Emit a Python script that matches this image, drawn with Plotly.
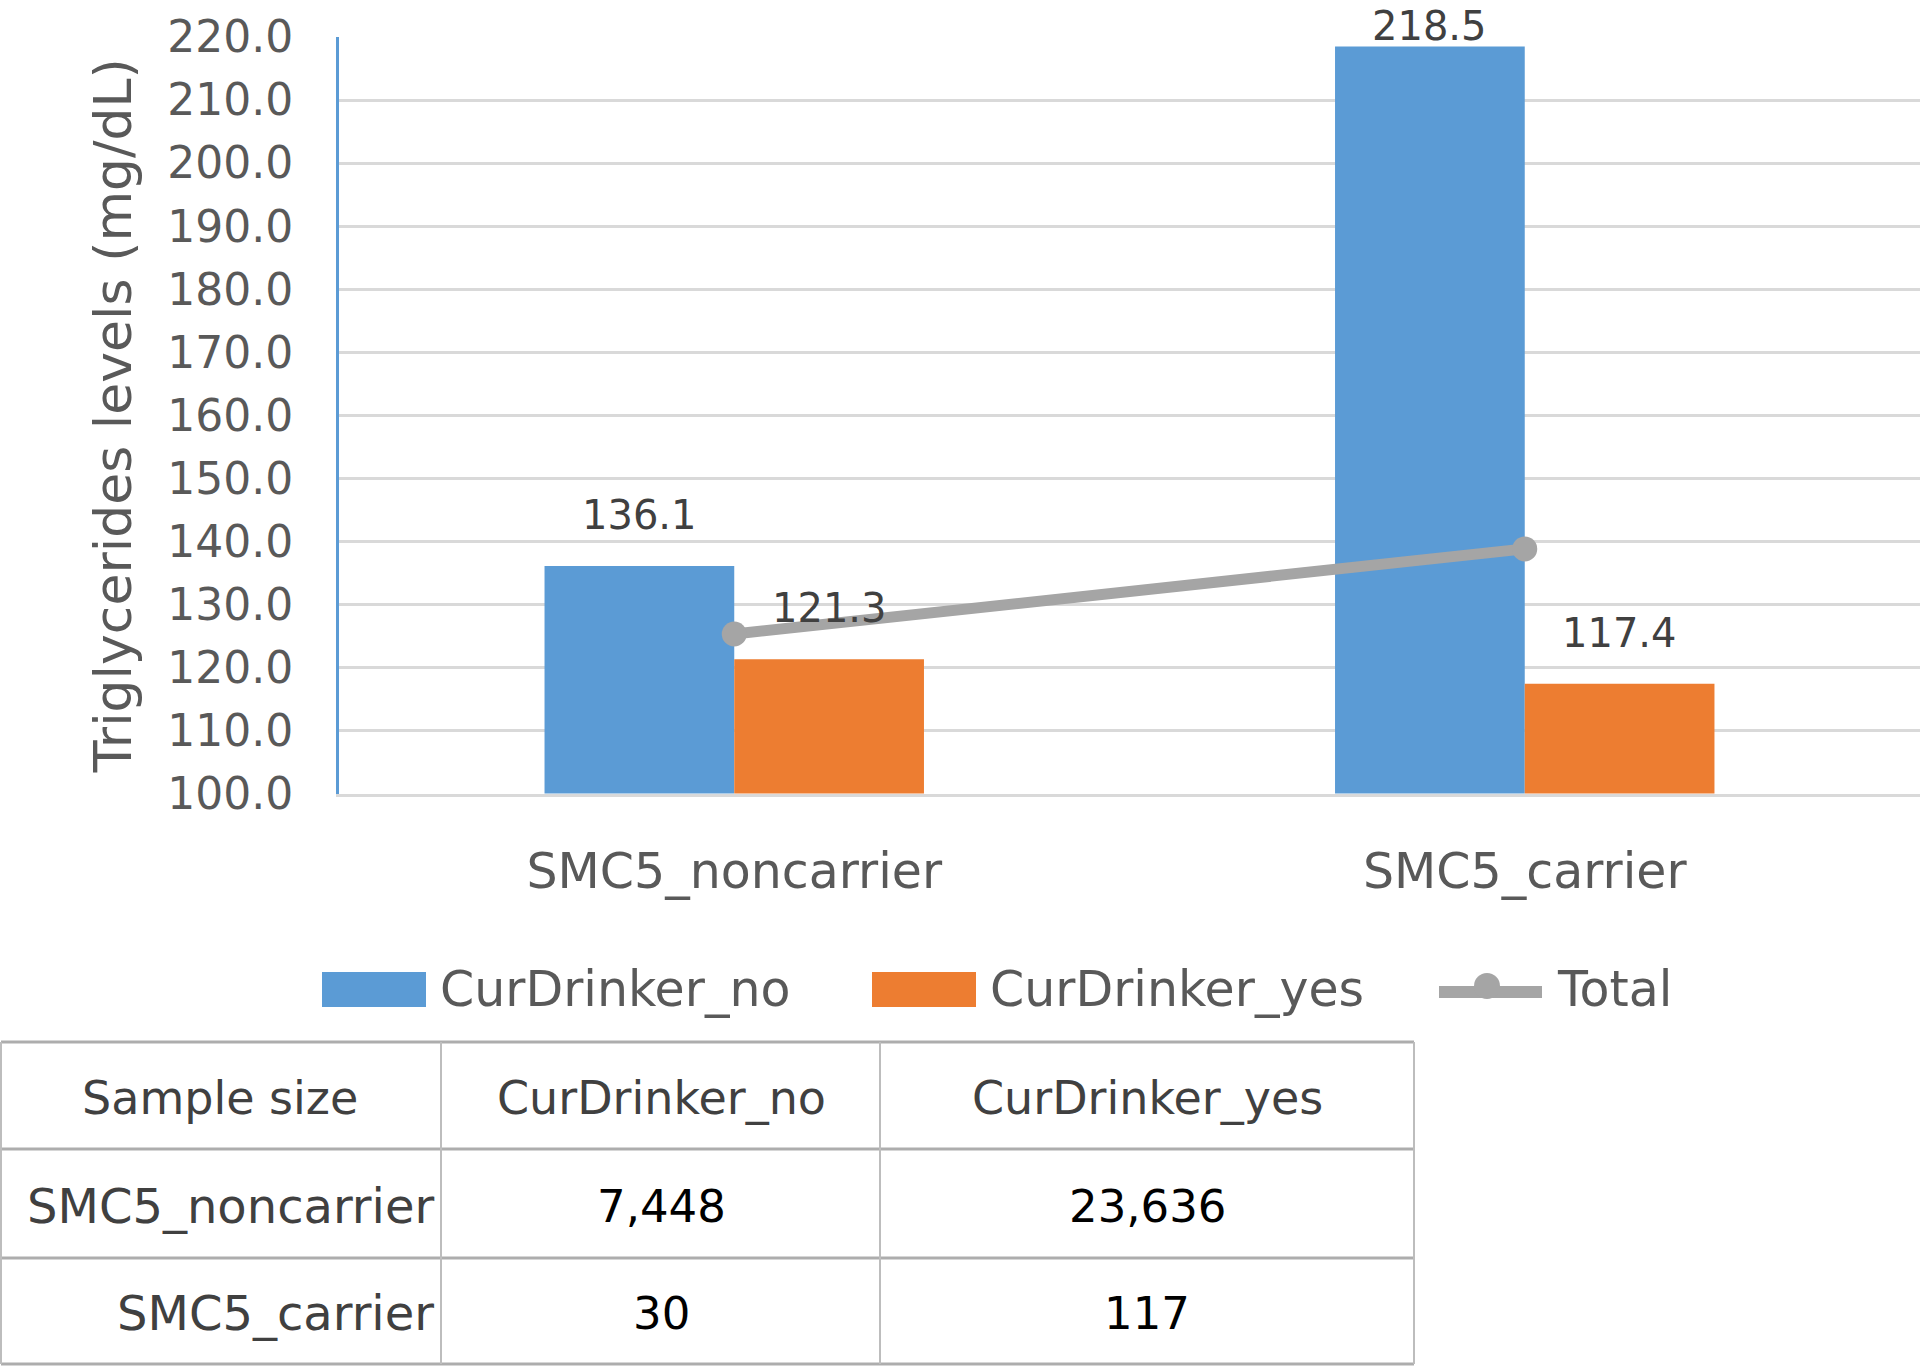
import plotly.graph_objects as go

# ---------------- data ----------------
categories = ["SMC5_noncarrier", "SMC5_carrier"]
drinker_no = [136.1, 218.5]
drinker_yes = [121.3, 117.4]
total = [125.3, 138.8]
series_names = ["CurDrinker_no", "CurDrinker_yes", "Total"]

table_header = ["Sample size", "CurDrinker_no", "CurDrinker_yes"]
table_rows = ["SMC5_noncarrier", "SMC5_carrier"]
n_no = ["7,448", "30"]
n_yes = ["23,636", "117"]

y_title = "Triglycerides levels (mg/dL)"
y_min, y_max, y_step = 100, 220, 10

# ---------------- style ----------------
W, H = 1920, 1367
BLUE = "#5B9BD5"
ORANGE = "#ED7D31"
GRAY = "#A5A5A5"
GRID = "#D9D9D9"
TXT = "#595959"
LBL = "#404040"
FONT = "DejaVu Sans"

PL, PR, PT, PB = 339, 1920, 37, 793.5   # plot area in pixels
BARGAP = 0.52


def px(x):
    return x / W


def py(y):
    return 1 - y / H


fig = go.Figure()
fig.add_bar(x=categories, y=drinker_no, name=series_names[0],
            marker=dict(color=BLUE, line=dict(width=0)), showlegend=False)
fig.add_bar(x=categories, y=drinker_yes, name=series_names[1],
            marker=dict(color=ORANGE, line=dict(width=0)), showlegend=False)
fig.add_scatter(x=categories, y=total, name=series_names[2], mode="lines+markers",
                line=dict(color=GRAY, width=11), marker=dict(size=25, color=GRAY),
                showlegend=False)

annotations = []
shapes = []

# data labels above the bars (kept inside the figure at the top)
unit_px = (PB - PT) / (y_max - y_min)
offset = (1 - BARGAP) / 4
for series, sign in ((drinker_no, -1), (drinker_yes, 1)):
    for i, v in enumerate(series):
        top_px = PB - (v - y_min) * unit_px
        center = max(top_px - 51, 26)
        annotations.append(dict(
            x=i + sign * offset, y=v, xref="x", yref="y", text=f"{v:.1f}",
            showarrow=False, yanchor="middle", yshift=top_px - center,
            font=dict(family=FONT, size=40, color=LBL)))

# ---------------- legend (drawn) ----------------
leg_y = 989
shapes.append(dict(type="rect", xref="paper", yref="paper", x0=px(322), x1=px(426),
                   y0=py(1007), y1=py(972), fillcolor=BLUE, line=dict(width=0)))
shapes.append(dict(type="rect", xref="paper", yref="paper", x0=px(872), x1=px(976),
                   y0=py(1007), y1=py(972), fillcolor=ORANGE, line=dict(width=0)))
shapes.append(dict(type="line", xref="paper", yref="paper", x0=px(1439), x1=px(1542),
                   y0=py(992), y1=py(992), line=dict(color=GRAY, width=12)))
shapes.append(dict(type="circle", xref="paper", yref="paper", x0=px(1474), x1=px(1500),
                   y0=py(999), y1=py(973), fillcolor=GRAY, line=dict(width=0)))
for name, x in zip(series_names, (438, 988, 1555)):
    annotations.append(dict(x=px(x), y=py(leg_y), xref="paper", yref="paper", text=name,
                            showarrow=False, xanchor="left", yanchor="middle",
                            font=dict(family=FONT, size=49, color=TXT)))

# ---------------- table (drawn) ----------------
LINE_H = dict(color="#ADADAD", width=3)
LINE_V = dict(color="#BDBDBD", width=2)
row_edges = [1042, 1149, 1258, 1364]
col_edges = [1, 441, 880, 1414]
for yv in row_edges:
    shapes.append(dict(type="line", xref="paper", yref="paper", x0=px(col_edges[0]),
                       x1=px(col_edges[-1]), y0=py(yv), y1=py(yv), line=LINE_H))
for xv in col_edges:
    shapes.append(dict(type="line", xref="paper", yref="paper", x0=px(xv), x1=px(xv),
                       y0=py(row_edges[0]), y1=py(row_edges[-1]), line=LINE_V))

row_centers = [1098, 1206, 1313]
col_centers = [220, 661, 1147]
for txt, cx in zip(table_header, col_centers):
    annotations.append(dict(x=px(cx), y=py(row_centers[0]), xref="paper", yref="paper",
                            text=txt, showarrow=False, xanchor="center", yanchor="middle",
                            font=dict(family=FONT, size=46, color=LBL)))
for r, (name, a, b) in enumerate(zip(table_rows, n_no, n_yes)):
    yc = py(row_centers[r + 1])
    annotations.append(dict(x=px(436), y=yc, xref="paper", yref="paper", text=name,
                            showarrow=False, xanchor="right", yanchor="middle",
                            font=dict(family=FONT, size=48, color=LBL)))
    annotations.append(dict(x=px(col_centers[1]), y=yc, xref="paper", yref="paper", text=a,
                            showarrow=False, xanchor="center", yanchor="middle",
                            font=dict(family=FONT, size=45, color="#000000")))
    annotations.append(dict(x=px(col_centers[2]), y=yc, xref="paper", yref="paper", text=b,
                            showarrow=False, xanchor="center", yanchor="middle",
                            font=dict(family=FONT, size=45, color="#000000")))

fig.update_layout(
    width=W, height=H,
    margin=dict(l=0, r=0, t=0, b=0, autoexpand=False),
    paper_bgcolor="white", plot_bgcolor="white",
    barmode="group", bargap=BARGAP, bargroupgap=0,
    showlegend=False,
    font=dict(family=FONT, color=TXT),
    xaxis=dict(domain=[px(PL), px(PR)], showgrid=False, zeroline=False, automargin=False,
               showline=True, linecolor=GRID, linewidth=3,
               ticks="outside", ticklen=33, tickcolor="rgba(0,0,0,0)",
               tickfont=dict(family=FONT, size=49, color=TXT)),
    yaxis=dict(domain=[py(PB), py(PT)], range=[y_min, y_max], dtick=y_step,
               tickformat=".1f", showgrid=True, gridcolor=GRID, gridwidth=3,
               zeroline=False, showline=True, linecolor=BLUE, linewidth=3,
               automargin=False,
               ticks="outside", ticklen=34, tickcolor="rgba(0,0,0,0)",
               tickfont=dict(family=FONT, size=44, color=TXT),
               title=dict(text=y_title, standoff=20,
                          font=dict(family=FONT, size=52, color=TXT))),
    annotations=annotations,
    shapes=shapes,
)

fig.write_html("out.html", config={"displayModeBar": False},
               post_script="document.body.style.margin='0';")
